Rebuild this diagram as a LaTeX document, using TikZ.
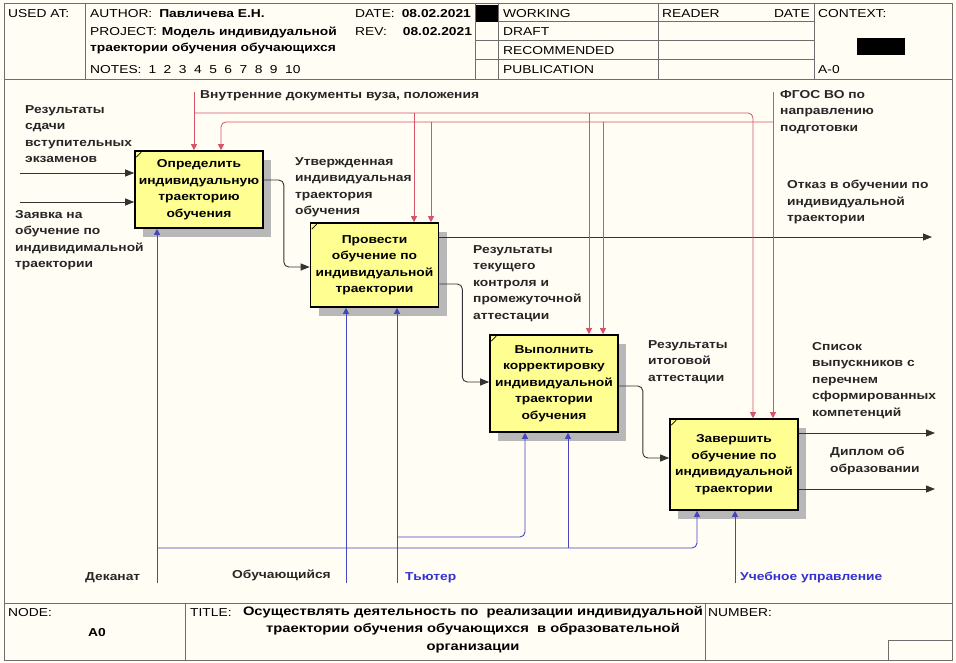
\documentclass[tikz,border=0pt]{standalone}
\usepackage{fontspec}
\setmainfont{Liberation Sans}[FakeStretch=1.2]
\usetikzlibrary{arrows.meta,shadows}

\definecolor{paper}{RGB}{255,253,244}
\definecolor{boxfill}{RGB}{255,255,145}
\definecolor{ctrlred}{RGB}{215,85,105}
\definecolor{mechblue}{RGB}{70,70,190}
\definecolor{tagblue}{RGB}{50,50,210}
\definecolor{framegray}{RGB}{110,110,110}

\begin{document}
\begin{tikzpicture}[x=1pt, y=-1pt,
  font=\fontsize{11.5}{16.5}\selectfont\bfseries,
  func/.style={rectangle, draw=black, line width=1.6pt, fill=boxfill, align=center,
               inner sep=2pt, minimum width=128pt,
               drop shadow={shadow xshift=8pt, shadow yshift=-9pt, fill=black!28, opacity=1}},
  lbl/.style={anchor=north west, align=left, inner sep=0pt, text=black!85},
  hdr/.style={anchor=west, inner sep=0pt, font=\fontsize{11.5}{12}\selectfont\mdseries},
  io/.style={-{Triangle[length=9pt,width=7pt]}, line width=0.9pt, black!80, rounded corners=5pt},
  ctrl/.style={-{Triangle[length=6pt,width=6pt]}, line width=0.8pt, ctrlred, rounded corners=5pt},
  mech/.style={-{Triangle[length=6pt,width=6pt]}, line width=0.9pt, mechblue, rounded corners=5pt},
  frame/.style={draw=framegray, line width=1pt}]
  \fill[paper] (0,0) rectangle (956,663);
  \useasboundingbox (0,0) rectangle (956,663);
  % Form
  \draw[frame] (4,4) rectangle (952,660);
  \draw[frame] (4,80) -- (952,80) (4,603) -- (952,603);
  \draw[frame] (85,4) -- (85,80) (475,4) -- (475,80) (498,4) -- (498,80)
               (658,4) -- (658,80) (814,4) -- (814,80);
  \foreach \y in {22,41,60} \draw[frame] (475,\y) -- (814,\y);
  \fill (476,5) rectangle (498,22);
  \fill (857,38) rectangle (905,55);
  \draw[frame] (185,603) -- (185,660) (705,603) -- (705,660);
  \draw[frame] (888,660) |- (952,640);
  % Header
  \node[hdr] (usedat) at (8,14) {USED AT:};
  \node[hdr] (author) at (90,14) {AUTHOR:\hspace{7pt}\textbf{Павличева Е.Н.}};
  \node[hdr] (date) at (355,14) {DATE:\hspace{7pt}\textbf{08.02.2021}};
  \node[hdr] (project) at (90,32) {PROJECT:\hspace{5pt}\textbf{Модель индивидуальной}};
  \node[hdr] (rev) at (355,32) {REV:\hspace{16pt}\textbf{08.02.2021}};
  \node[hdr] (project2) at (90,48) {\textbf{траектории обучения обучающихся}};
  \node[hdr] (notes) at (90,70) {NOTES:\hspace{7pt}1\hspace{7.5pt}2\hspace{7.5pt}3\hspace{7.5pt}4\hspace{7.5pt}5\hspace{7.5pt}6\hspace{7.5pt}7\hspace{7.5pt}8\hspace{7.5pt}9\hspace{7.5pt}10};
  \node[hdr] (working) at (503,14) {WORKING};
  \node[hdr] (draft) at (503,32) {DRAFT};
  \node[hdr] (recom) at (503,51) {RECOMMENDED};
  \node[hdr] (publ) at (503,70) {PUBLICATION};
  \node[hdr] (reader) at (662,14) {READER};
  \node[hdr, anchor=east] (rdate) at (810,14) {DATE};
  \node[hdr] (context) at (818,14) {CONTEXT:};
  \node[hdr] (ctxnode) at (818,70) {A-0};
  % Footer
  \node[hdr] (nodelbl) at (8,613) {NODE:};
  \node[hdr, font=\fontsize{11.5}{12}\selectfont\bfseries] (nodeval) at (88,633) {A0};
  \node[hdr] (titlelbl) at (190,613) {TITLE:};
  \node[anchor=north, align=center, inner sep=0pt, font=\fontsize{12.3}{17.5}\selectfont\bfseries]
    (title) at (473,606) {Осуществлять деятельность по\ \ реализации индивидуальной\\
                          траектории обучения обучающихся\ \ в образовательной\\организации};
  \node[hdr] (number) at (708,613) {NUMBER:};
  % Functions
  \node[func, minimum height=77pt] (b1) at (199,189.5) {Определить\\индивидуальную\\траекторию\\обучения};
  \node[func, minimum height=84pt] (b2) at (374.5,265) {Провести\\обучение по\\индивидуальной\\траектории};
  \node[func, minimum height=97pt] (b3) at (554,383.5) {Выполнить\\корректировку\\индивидуальной\\траектории\\обучения};
  \node[func, minimum height=91pt] (b4) at (734,464.5) {Завершить\\обучение по\\индивидуальной\\траектории};
  \foreach \b in {b1,b2,b3,b4}
    \draw[line width=0.6pt] ([xshift=2pt,yshift=-7pt]\b.north west) -- ([xshift=7pt,yshift=-2pt]\b.north west);
  % Inputs left
  \coordinate (in1) at (20,173);
  \coordinate (in2) at (20,202);
  \draw[io] (in1) -- (in1 -| b1.west);
  \draw[io] (in2) -- (in2 -| b1.west);
  % Outputs
  \draw[io] ([yshift=9.5pt]b1.east) -- ++(20,0) |- ([yshift=-2pt]b2.west);
  \draw[io] ([yshift=-19pt]b2.east) -- ++(23,0) |- ([yshift=1.5pt]b3.west);
  \draw[io] ([yshift=-2.5pt]b3.east) -- ++(24,0) |- ([yshift=6.5pt]b4.west);
  \coordinate (out2) at (932,237);
  \coordinate (out4a) at (935,433);
  \coordinate (out4b) at (935,489);
  \draw[io] (out2 -| b2.east) -- (out2);
  \draw[io] (out4a -| b4.east) -- (out4a);
  \draw[io] (out4b -| b4.east) -- (out4b);
  % Controls
  \coordinate (cdocs) at (194,92);
  \coordinate (cfgos) at (773,92);
  \coordinate (docsbus) at (194,113);
  \coordinate (fgosbus) at (773,122);
  \draw[ctrl] (cdocs) -- (cdocs |- b1.north);
  \draw[ctrl] (docsbus) -| ([xshift=19pt]b4.north);
  \draw[ctrl] (cfgos) -- ([xshift=39pt]b4.north);
  \draw[ctrl] (fgosbus) -| ([xshift=22pt]b1.north);
  \foreach \b/\dx/\bus in {b2/39.5/docsbus, b3/35/docsbus, b2/56.5/fgosbus, b3/49/fgosbus}{
    \path ([xshift=\dx pt]\b.north) coordinate (tip);
    \draw[ctrl] (tip |- \bus) -- (tip);
  }
  % Mechanisms
  \coordinate (mdean) at (157,583);
  \coordinate (mstud) at (346,583);
  \coordinate (mtutor) at (397,583);
  \coordinate (mdept) at (735,583);
  \coordinate (deanbus) at (157,548);
  \coordinate (deanj) at (568,548);
  \coordinate (tutorbus) at (397,537);
  \draw[mech] (mdean) -- (mdean |- b1.south);
  \draw[mech] (mstud) -- (mstud |- b2.south);
  \draw[mech] (mtutor) -- (mtutor |- b2.south);
  \draw[mech] (mdept) -- (mdept |- b4.south);
  \draw[mech] (deanbus) -| ([xshift=-37pt]b4.south);
  \draw[mech] (deanj) -- (deanj |- b3.south);
  \draw[mech] (tutorbus) -| ([xshift=-29pt]b3.south);
  % Labels
  \node[lbl] (ldocs) at (200,90) {Внутренние документы вуза, положения};
  \node[lbl] (lfgos) at (780,90) {ФГОС ВО по\\направлению\\подготовки};
  \node[lbl] (lexam) at (25,105) {Результаты\\сдачи\\вступительных\\экзаменов};
  \node[lbl] (lappl) at (15,210) {Заявка на\\обучение по\\индивидимальной\\траектории};
  \node[lbl] (lappr) at (295,157) {Утвержденная\\индивидуальная\\траектория\\обучения};
  \node[lbl] (lrefuse) at (787,180) {Отказ в обучении по\\индивидуальной\\траектории};
  \node[lbl] (lcur) at (473,245) {Результаты\\текущего\\контроля и\\промежуточной\\аттестации};
  \node[lbl] (lfin) at (648,340) {Результаты\\итоговой\\аттестации};
  \node[lbl] (llist) at (812,342) {Список\\выпускников с\\перечнем\\сформированных\\компетенций};
  \node[lbl] (ldipl) at (830,447) {Диплом об\\образовании};
  \node[lbl] (ldean) at (85,572) {Деканат};
  \node[lbl] (lstud) at (232,570) {Обучающийся};
  \node[lbl, text=tagblue] (ltutor) at (405,572) {Тьютер};
  \node[lbl, text=tagblue] (ldept) at (740,572) {Учебное управление};
\end{tikzpicture}
\end{document}
